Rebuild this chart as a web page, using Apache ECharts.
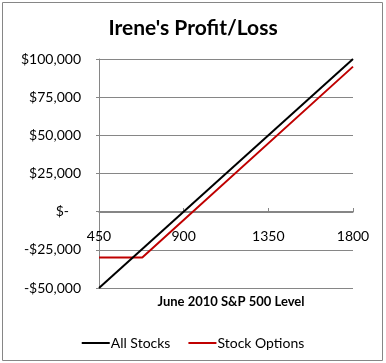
<!DOCTYPE html>
<html>
<head>
<meta charset="utf-8">
<script src="https://cdn.jsdelivr.net/npm/echarts@6/dist/echarts.min.js"></script>
<style>
html,body{margin:0;padding:0;background:#fff;}
#chart{width:386px;height:363px;}
</style>
</head>
<body>
<div id="chart"></div>
<script>
var seriesNames = ['All Stocks', 'Stock Options'];
var allStocks = [[450, -50000], [1800, 100000]];
var stockOptions = [[450, -30000], [680, -30000], [1800, 95000]];
var xTicks = [450, 900, 1350, 1800];
var yMin = -50000, yMax = 100000, yStep = 25000;

var chart = echarts.init(document.getElementById('chart'), null, {renderer: 'canvas'});
var fontFam = 'Lato, "DejaVu Sans", sans-serif';
function fmtY(v) {
  if (v === 0) return '{a|$-}{s|x}';
  var s = Math.abs(v).toLocaleString('en-US');
  return (v < 0 ? '-$' : '$') + s;
}
chart.setOption({
  animation: false,
  backgroundColor: '#fff',
  title: [
    {text: "Irene's Profit/Loss", left: 'center', top: 13,
     textStyle: {fontFamily: fontFam, fontWeight: 'bold', fontSize: 21, color: '#000'}},
    {text: 'June 2010 S&P 500 Level', left: 226, textAlign: 'center', top: 290,
     textStyle: {fontFamily: fontFam, fontWeight: 'bold', fontSize: 13, color: '#000'}}
  ],
  graphic: [{
    type: 'rect', shape: {x: 2.5, y: 2.5, width: 380, height: 358},
    style: {fill: 'none', stroke: '#868686', lineWidth: 1}, silent: true
  }],
  grid: {left: 99, right: 33, top: 59, bottom: 75, containLabel: false},
  legend: {
    top: 331, left: 'center',
    data: seriesNames,
    icon: 'rect', itemWidth: 28, itemHeight: 2, itemGap: 18,
    textStyle: {fontFamily: fontFam, fontSize: 14, color: '#000', padding: [0, 0, 0, -4]}
  },
  xAxis: {
    type: 'value', min: 450, max: 1800, interval: 450,
    position: 'bottom', offset: -76,
    axisLine: {show: true, onZero: false, lineStyle: {color: '#868686', width: 1}},
    axisTick: {show: true, inside: true, length: 4, lineStyle: {color: '#868686'}},
    axisLabel: {
      margin: 17, fontFamily: fontFam, fontSize: 14, color: '#000',
      formatter: function (v) { return String(v); }
    },
    splitLine: {show: false}
  },
  yAxis: {
    type: 'value', min: yMin, max: yMax, interval: yStep,
    axisLine: {show: true, lineStyle: {color: '#868686', width: 1}},
    axisTick: {show: true, inside: false, length: 3, lineStyle: {color: '#868686'}},
    axisLabel: {
      margin: 18, fontFamily: fontFam, fontSize: 14, color: '#000', formatter: fmtY,
      rich: {
        a: {fontFamily: fontFam, fontSize: 14, color: '#000'},
        s: {fontFamily: fontFam, fontSize: 14, color: 'rgba(0,0,0,0)', width: 12}
      }
    },
    splitLine: {show: true, lineStyle: {color: '#868686', width: 1}}
  },
  series: [
    {name: seriesNames[0], type: 'line', data: allStocks, showSymbol: false,
     lineStyle: {color: '#000', width: 2}, itemStyle: {color: '#000'}, z: 3},
    {name: seriesNames[1], type: 'line', data: stockOptions, showSymbol: false,
     lineStyle: {color: '#C00000', width: 2}, itemStyle: {color: '#C00000'}, z: 2}
  ]
});
</script>
</body>
</html>
